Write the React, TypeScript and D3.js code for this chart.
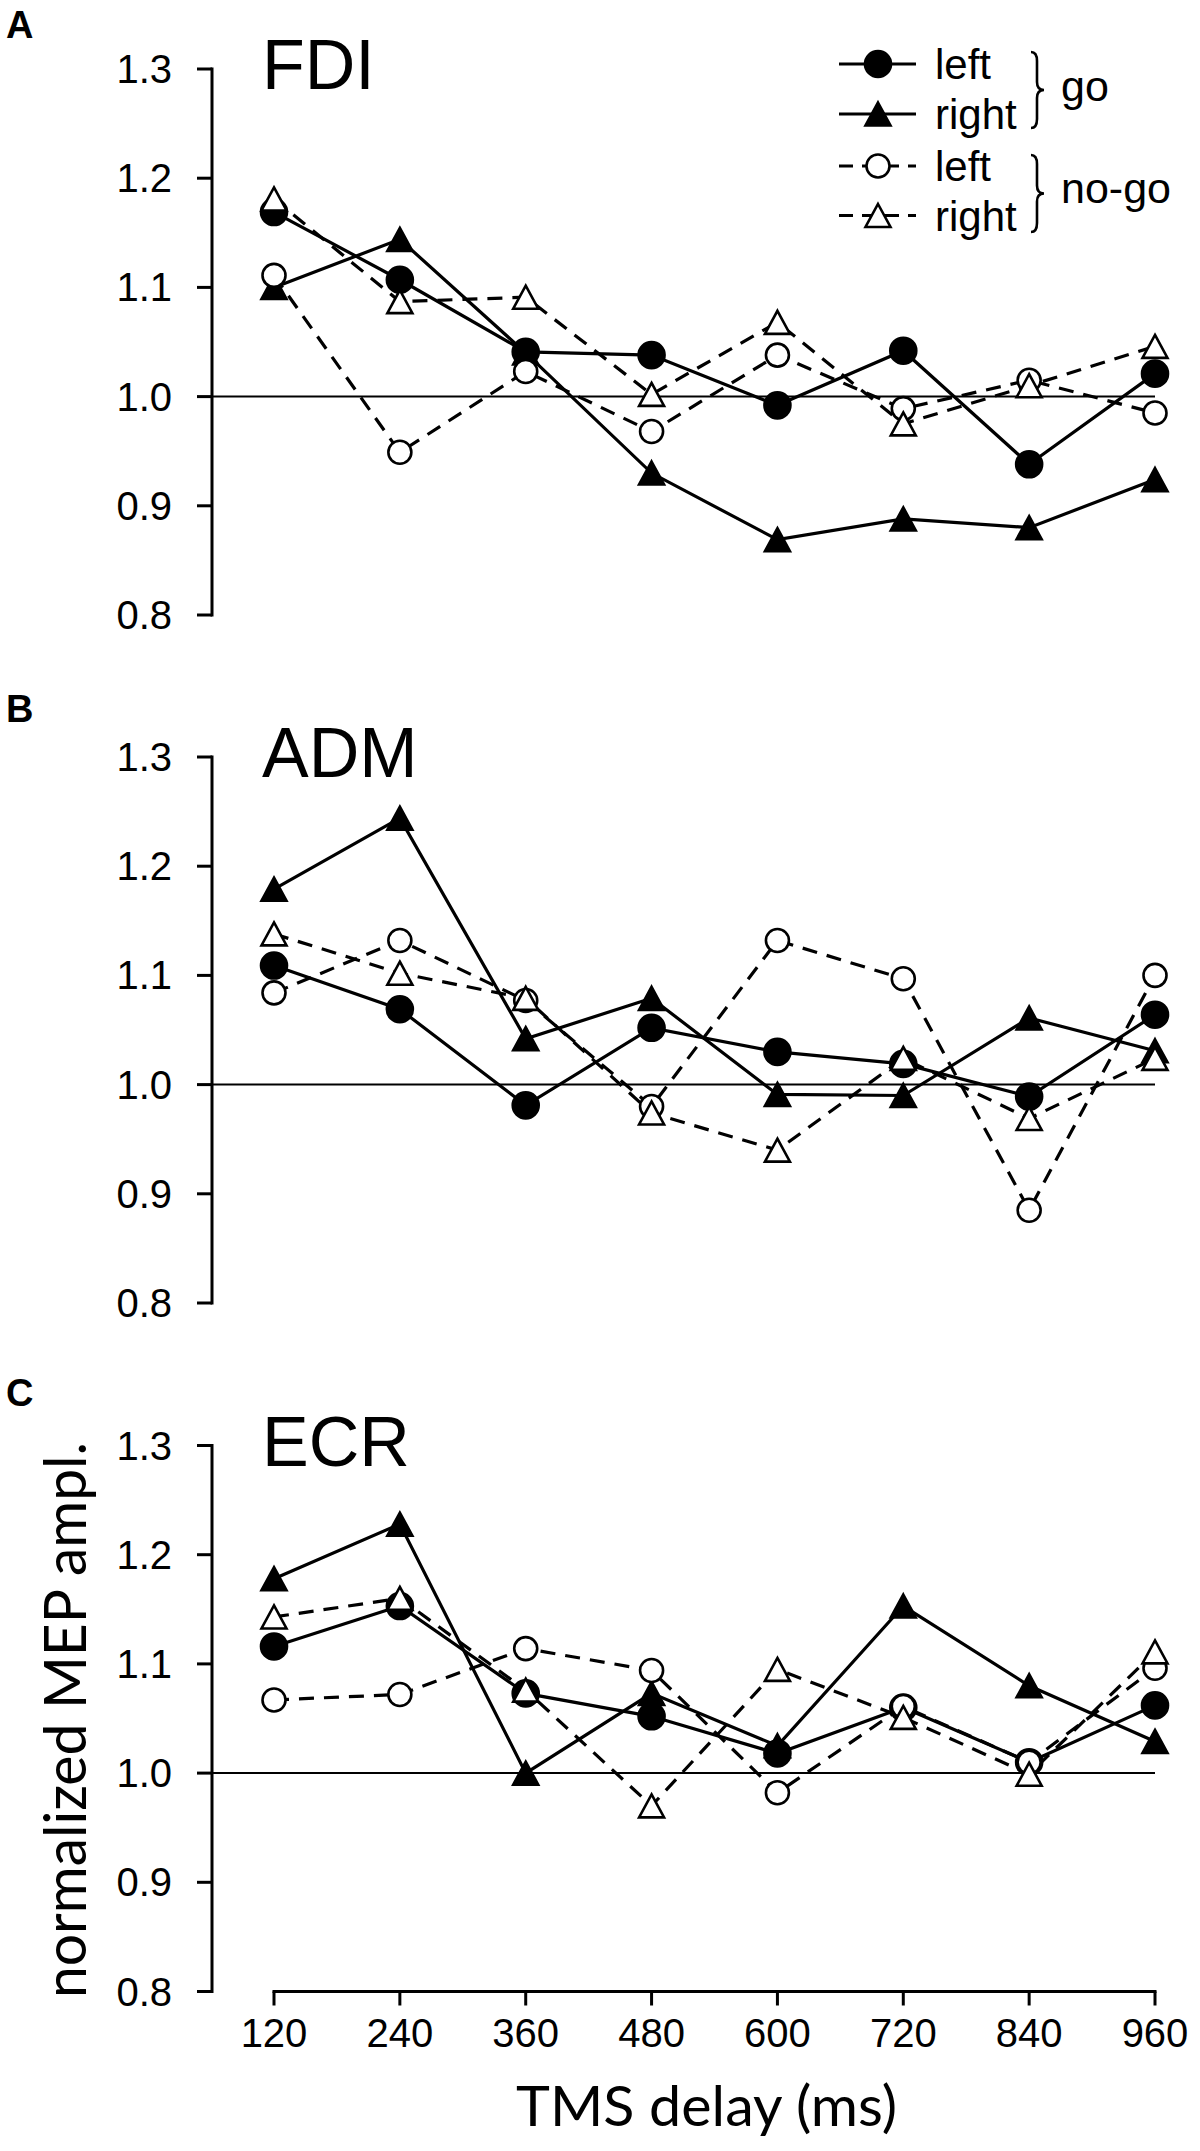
import * as d3 from "d3";

// TMS delays (ms) on the x axis
const delays = [120, 240, 360, 480, 600, 720, 840, 960];
const yTicks = [0.8, 0.9, 1.0, 1.1, 1.2, 1.3];

// FDI
const fdiGoLeft = [1.169, 1.107, 1.041, 1.038, 0.992, 1.042, 0.938, 1.021];
const fdiGoRight = [1.1, 1.144, 1.04, 0.93, 0.869, 0.888, 0.88, 0.924];
const fdiNogoLeft = [1.111, 0.949, 1.023, 0.968, 1.038, 0.989, 1.015, 0.985];
const fdiNogoRight = [1.181, 1.087, 1.091, 1.002, 1.068, 0.975, 1.01, 1.046];

// ADM
const admGoLeft = [1.109, 1.069, 0.981, 1.052, 1.03, 1.019, 0.989, 1.064];
const admGoRight = [1.179, 1.244, 1.042, 1.079, 0.991, 0.99, 1.061, 1.031];
const admNogoLeft = [1.084, 1.132, 1.077, 0.98, 1.132, 1.097, 0.885, 1.1];
const admNogoRight = [1.138, 1.102, 1.079, 0.974, 0.94, 1.024, 0.969, 1.024];

// ECR
const ecrGoLeft = [1.116, 1.153, 1.073, 1.052, 1.018, 1.06, 1.01, 1.062];
const ecrGoRight = [1.178, 1.228, 1.0, 1.073, 1.025, 1.153, 1.08, 1.029];
const ecrNogoLeft = [1.067, 1.072, 1.114, 1.094, 0.982, 1.061, 1.01, 1.096];
const ecrNogoRight = [1.143, 1.16, 1.076, 0.97, 1.095, 1.051, 0.999, 1.111];

const muscles = ["FDI", "ADM", "ECR"];
const panelLetters = ["A", "B", "C"];
const legendLabels = ["left", "right", "left", "right"];
const groupLabels = ["go", "no-go"];

type Style = { shape: "circle" | "triangle"; filled: boolean; dashed: boolean };
const styles: Style[] = [
  { shape: "circle", filled: true, dashed: false },
  { shape: "triangle", filled: true, dashed: false },
  { shape: "circle", filled: false, dashed: true },
  { shape: "triangle", filled: false, dashed: true },
];

const panelData = [
  [fdiGoLeft, fdiGoRight, fdiNogoLeft, fdiNogoRight],
  [admGoLeft, admGoRight, admNogoLeft, admNogoRight],
  [ecrGoLeft, ecrGoRight, ecrNogoLeft, ecrNogoRight],
];

const W = 1200;
const H = 2151;
const panelTops = [69, 757, 1445.5];
const letterBaselines = [38, 722, 1406];
const panelHeight = 546;
const axisX = 212;
const DASH = "15,10";
const SANS = "'Liberation Sans', Arial, sans-serif";
const TITLE_FONT = "Lato, 'Open Sans', sans-serif";

const x = d3.scaleLinear().domain([120, 960]).range([274, 1155]);

function triPath(cx: number, cy: number) {
  const s = 25;
  const h = 23;
  return `M${cx},${cy - h / 2}L${cx + s / 2},${cy + h / 2}L${cx - s / 2},${cy + h / 2}Z`;
}

function Marker({ st, cx, cy }: { st: Style; cx: number; cy: number }) {
  const fill = st.filled ? "#000" : "#fff";
  if (st.shape === "circle") {
    return <circle cx={cx} cy={cy} r={st.filled ? 13 : 11.5} fill={fill} stroke="#000" strokeWidth={2.6} />;
  }
  return <path d={triPath(cx, cy)} fill={fill} stroke="#000" strokeWidth={2.6} strokeLinejoin="miter" />;
}

function Panel({ idx }: { idx: number }) {
  const top = panelTops[idx];
  const y = d3.scaleLinear().domain([0.8, 1.3]).range([top + panelHeight, top]);
  const line = d3
    .line<number>()
    .x((_, i) => x(delays[i]))
    .y((v) => y(v));
  const series = panelData[idx];
  return (
    <g>
      <text x={6} y={letterBaselines[idx]} fontFamily={SANS} fontWeight="bold" fontSize={38}>
        {panelLetters[idx]}
      </text>
      <text x={262} y={top + 20} fontFamily={SANS} fontSize={70}>
        {muscles[idx]}
      </text>
      {/* y axis */}
      <line x1={axisX} x2={axisX} y1={y(1.3)} y2={y(0.8)} stroke="#000" strokeWidth={3} strokeLinecap="square" />
      {yTicks.map((t) => (
        <g key={t}>
          <line x1={axisX - 15} x2={axisX} y1={y(t)} y2={y(t)} stroke="#000" strokeWidth={3} />
          <text x={172} y={y(t) + 14} textAnchor="end" fontFamily={SANS} fontSize={40}>
            {t.toFixed(1)}
          </text>
        </g>
      ))}
      {/* reference line */}
      <line x1={axisX} x2={x(960)} y1={y(1)} y2={y(1)} stroke="#000" strokeWidth={2} />
      {series.map((vals, si) => (
        <path
          key={"l" + si}
          d={line(vals) as string}
          fill="none"
          stroke="#000"
          strokeWidth={3.2}
          strokeDasharray={styles[si].dashed ? DASH : undefined}
        />
      ))}
      {series.map((vals, si) =>
        vals.map((v, i) => <Marker key={`m${si}-${i}`} st={styles[si]} cx={x(delays[i])} cy={y(v)} />)
      )}
      {idx === 2 && (
        <g>
          <line x1={x(120)} x2={x(960)} y1={y(0.8)} y2={y(0.8)} stroke="#000" strokeWidth={3} strokeLinecap="square" />
          {delays.map((d) => (
            <g key={d}>
              <line x1={x(d)} x2={x(d)} y1={y(0.8)} y2={y(0.8) + 14} stroke="#000" strokeWidth={3} />
              <text x={x(d)} y={2047} textAnchor="middle" fontFamily={SANS} fontSize={40}>
                {d}
              </text>
            </g>
          ))}
        </g>
      )}
    </g>
  );
}

function Brace({ x0, top, bottom }: { x0: number; top: number; bottom: number }) {
  const mid = (top + bottom) / 2;
  const xm = x0 + 6;
  const d = `M${x0},${top} Q${xm},${top} ${xm},${top + 9} L${xm},${mid - 8} Q${xm},${mid} ${x0 + 13},${mid} Q${xm},${mid} ${xm},${mid + 8} L${xm},${bottom - 9} Q${xm},${bottom} ${x0},${bottom}`;
  return <path d={d} fill="none" stroke="#000" strokeWidth={2.6} />;
}

function Legend() {
  const rows = [64, 114, 166, 215.5];
  return (
    <g>
      {styles.map((st, i) => (
        <g key={i}>
          <line x1={839} x2={916} y1={rows[i]} y2={rows[i]} stroke="#000" strokeWidth={3} strokeDasharray={st.dashed ? "14,9" : undefined} />
          <Marker st={st} cx={878} cy={rows[i]} />
          <text x={935} y={rows[i] + 15} fontFamily={SANS} fontSize={42}>
            {legendLabels[i]}
          </text>
        </g>
      ))}
      <Brace x0={1031} top={52} bottom={128} />
      <Brace x0={1031} top={155} bottom={232} />
      <text x={1061} y={101} fontFamily={SANS} fontSize={43}>
        {groupLabels[0]}
      </text>
      <text x={1061} y={203} fontFamily={SANS} fontSize={43}>
        {groupLabels[1]}
      </text>
    </g>
  );
}

export default function App() {
  return (
    <svg
      width={W}
      height={H}
      viewBox={`0 0 ${W} ${H}`}
      style={{ position: "absolute", left: 0, top: 0, background: "#fff" }}
    >
      <rect width={W} height={H} fill="#fff" />
      {muscles.map((_, i) => (
        <Panel key={i} idx={i} />
      ))}
      <Legend />
      <text
        transform="translate(86,1998) rotate(-90)"
        fontFamily={TITLE_FONT}
        fontSize={58}
        textLength={556}
        lengthAdjust="spacingAndGlyphs"
      >
        normalized MEP ampl.
      </text>
      <text x={516} y={2126} fontFamily={TITLE_FONT} fontSize={56} textLength={381} lengthAdjust="spacingAndGlyphs">
        TMS delay (ms)
      </text>
    </svg>
  );
}
